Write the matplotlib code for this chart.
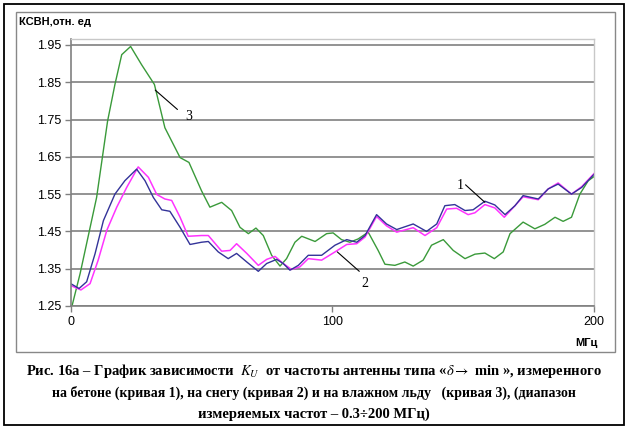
import matplotlib
matplotlib.use("Agg")
import matplotlib.pyplot as plt
from matplotlib.patches import Rectangle

# curve 1: concrete
freq1 = [0, 3.2, 6.1, 9.3, 12.5, 16.9, 20.7, 25.2, 28.4, 31.6, 34.8, 37.9, 41.8, 45.6,
         50, 52.6, 56.4, 60.2, 63.4, 67.3, 71.7, 74.9, 78.7, 81.2, 83.8, 87, 90.8, 95.9,
         101, 105.5, 109.3, 112.5, 116.9, 120.7, 124.6, 130.9, 136, 139.9, 143, 146.8,
         150.7, 153.8, 158.3, 162.1, 166, 169.8, 172.9, 178.7, 182.5, 186.3, 191.4, 195.3, 200]
vswr1 = [1.31, 1.297, 1.315, 1.39, 1.479, 1.55, 1.586, 1.617, 1.586, 1.541, 1.508, 1.504, 1.461, 1.415,
         1.421, 1.423, 1.395, 1.377, 1.391, 1.368, 1.343, 1.364, 1.375, 1.364, 1.346, 1.359, 1.386, 1.386,
         1.413, 1.428, 1.421, 1.439, 1.495, 1.47, 1.455, 1.47, 1.45, 1.47, 1.519, 1.522,
         1.506, 1.508, 1.531, 1.521, 1.495, 1.519, 1.546, 1.537, 1.564, 1.577, 1.55, 1.568, 1.603]

# curve 2: snow
freq2 = [0, 3.9, 7.4, 10.5, 13.8, 17.6, 21.4, 25.8, 29.7, 32.9, 36, 38.6, 41.8, 44.9,
         50, 52.6, 57.7, 60.9, 63.4, 67.3, 71.7, 74.9, 78.1, 81.2, 84.4, 87.6, 90.8, 95.9,
         101, 105.5, 109.3, 112.5, 116.9, 120.7, 124.6, 130.9, 135.4, 139.9, 143.7, 147.5,
         151.9, 154.5, 158.3, 162.1, 165.7, 169.8, 172.9, 178.7, 182.5, 186.3, 191.4, 195.3, 200]
vswr2 = [1.305, 1.293, 1.31, 1.373, 1.453, 1.515, 1.568, 1.623, 1.595, 1.549, 1.537, 1.533, 1.488, 1.437,
         1.439, 1.439, 1.397, 1.399, 1.417, 1.391, 1.359, 1.375, 1.383, 1.364, 1.348, 1.355, 1.377, 1.373,
         1.395, 1.415, 1.417, 1.435, 1.49, 1.465, 1.448, 1.46, 1.439, 1.46, 1.51, 1.512,
         1.495, 1.5, 1.522, 1.513, 1.488, 1.519, 1.543, 1.535, 1.564, 1.58, 1.55, 1.57, 1.605]

# curve 3: wet ice
freq3 = [0.5, 3.6, 9.9, 14.1, 16.9, 19.5, 22.9, 27.1, 32, 36, 41.8, 45.2, 50, 53.2, 57.7,
         61.5, 64.7, 67.9, 70.8, 73.6, 76.8, 80, 82.5, 85.7, 88.3, 93.4, 97.8, 100.3, 103.5,
         106.7, 109.9, 113.7, 117.5, 120.1, 123.9, 127.7, 130.9, 134.7, 137.9, 142.4, 146.2,
         150.7, 154.5, 158.3, 161.9, 165.3, 167.9, 172.9, 177.4, 181.2, 185.1, 188.2, 191.4,
         194.6, 197.8, 200]
vswr3 = [1.25, 1.337, 1.541, 1.746, 1.844, 1.924, 1.946, 1.897, 1.844, 1.728, 1.648, 1.635, 1.559, 1.515, 1.528,
         1.506, 1.461, 1.444, 1.459, 1.439, 1.386, 1.357, 1.377, 1.421, 1.437, 1.423, 1.444, 1.446, 1.428,
         1.421, 1.43, 1.448, 1.399, 1.362, 1.359, 1.368, 1.357, 1.373, 1.413, 1.428, 1.399,
         1.377, 1.389, 1.392, 1.377, 1.395, 1.444, 1.475, 1.457, 1.469, 1.488, 1.477, 1.488,
         1.55, 1.586, 1.597]

y_ticks = [1.25, 1.35, 1.45, 1.55, 1.65, 1.75, 1.85, 1.95]
x_ticks = [0, 100, 200]

CAPTION = [
    r"Рис. 16а – График зависимости  $\mathbf{\mathit{K_U}}$  от частоты антенны типа «$\mathit{\delta}\rightarrow$ min », измеренного",
    "на бетоне (кривая 1), на снегу (кривая 2) и на влажном льду   (кривая 3), (диапазон",
    "измеряемых частот – 0.3÷200 МГц)",
]


def main() -> None:
    plt.rcParams.update({
        "font.family": ["Liberation Sans", "DejaVu Sans"],
        "mathtext.fontset": "stix",
    })
    fig = plt.figure(figsize=(6.28, 4.28), dpi=100)
    W, H = 628, 428

    # outer black frame and grey chart frame
    fig.patches.append(Rectangle((4 / W, 1 - 425 / H), 620 / W, 421 / H, transform=fig.transFigure,
                                 fill=False, edgecolor="black", linewidth=1.3))
    fig.patches.append(Rectangle((16 / W, 1 - 352 / H), 599 / W, 340 / H, transform=fig.transFigure,
                                 fill=False, edgecolor="#888888", linewidth=1.0))

    ax = fig.add_axes([70.7 / W, 1 - 306 / H, (594 - 70.7) / W, (306 - 39) / H])
    ax.plot(freq3, vswr3, color="#3a9a3a", linewidth=1.0)
    ax.plot(freq2, vswr2, color="#ff33ff", linewidth=1.1)
    ax.plot(freq1, vswr1, color="#333399", linewidth=1.0)

    ax.set_xlim(0, 200)
    ax.set_ylim(1.25, 1.966)
    ax.set_yticks(y_ticks)
    ax.set_yticklabels([f"{v:.2f}" for v in y_ticks])
    ax.set_xticks(x_ticks)
    ax.tick_params(labelsize=9, length=4, width=1, color="#808080", pad=3)
    ax.grid(axis="y", color="#808080", linewidth=1.2)
    ax.set_axisbelow(True)
    for side in ("left", "bottom"):
        ax.spines[side].set_color("#808080")
        ax.spines[side].set_linewidth(1.2)
    for side in ("top", "right"):
        ax.spines[side].set_color("#c8c8c8")
        ax.spines[side].set_linewidth(1.0)

    lead = dict(arrowstyle="-", color="black", linewidth=0.8, shrinkA=0, shrinkB=0)
    serif = ["Liberation Serif", "DejaVu Serif"]
    ax.annotate("", xy=(32.3, 1.829), xytext=(40.8, 1.777), arrowprops=lead)
    ax.text(45.2, 1.757, "3", family=serif, fontsize=10, ha="center", va="center")
    ax.annotate("", xy=(158.3, 1.528), xytext=(150.9, 1.575), arrowprops=lead)
    ax.text(149.0, 1.574, "1", family=serif, fontsize=10, ha="center", va="center")
    ax.annotate("", xy=(101.9, 1.395), xytext=(110.3, 1.343), arrowprops=lead)
    ax.text(112.5, 1.309, "2", family=serif, fontsize=10, ha="center", va="center")

    fig.text(19 / W, 1 - 22 / H, "КСВН,отн. ед", fontsize=8, fontweight="bold", va="center", ha="left")
    fig.text(598 / W, 1 - 343 / H, "МГц", fontsize=8, fontweight="bold", va="center", ha="right")

    for line, y, size in zip(CAPTION, [371, 393, 414], [10.5, 10.0, 10.5]):
        fig.text(314 / W, 1 - y / H, line, family=serif, fontsize=size, fontweight="bold",
                 ha="center", va="center")

    fig.savefig("out.png", dpi=100)


if __name__ == "__main__":
    main()
